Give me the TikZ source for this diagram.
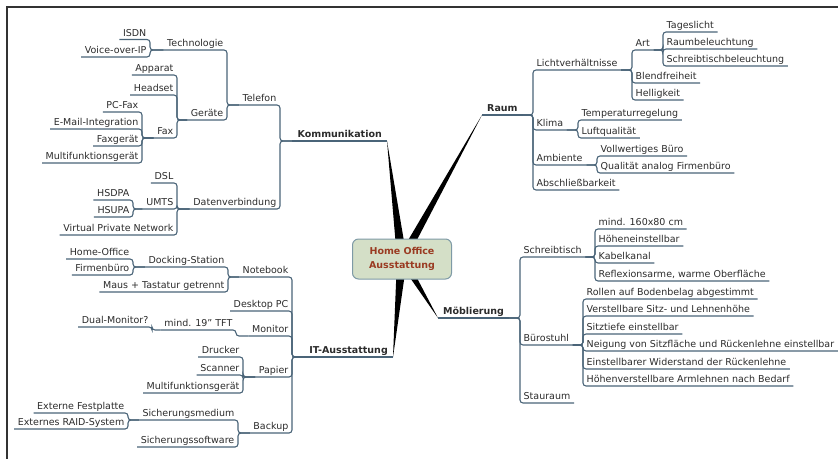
\documentclass[tikz,border=0pt]{standalone}
\usepackage{fontspec}
\setmainfont{DejaVu Sans}
\usetikzlibrary{backgrounds}
\definecolor{linie}{HTML}{4A6478}
\definecolor{schrift}{HTML}{2B2B2B}
\definecolor{kasten}{HTML}{D4DFC7}
\definecolor{kastenrand}{HTML}{7E9AA6}
\definecolor{kastentext}{HTML}{9A3B22}
\tikzset{
  topic/.style={font=\fontsize{9.5}{11}\selectfont, text=schrift, inner xsep=3.5pt, inner ysep=3pt, text depth=0pt, text height=7pt},
  links/.style={topic, anchor=south east},
  rechts/.style={topic, anchor=south west},
  haupt/.style={font=\fontsize{9.5}{11}\selectfont\bfseries, inner xsep=5pt},
  ast/.style={draw=linie, line width=1.1pt, rounded corners=3pt},
  keil/.style={fill=black},
  kern/.style={draw=kastenrand, fill=kasten, line width=1pt, rounded corners=6pt, minimum width=99pt, minimum height=40pt, align=center, text=kastentext, font=\fontsize{9.5}{14}\selectfont\bfseries}
}
\begin{document}
\begin{tikzpicture}[x=1pt,y=-1pt]
\useasboundingbox (0,0) rectangle (838,459);
\draw[line width=1.6pt, draw=black!80] (838,7) -- (7,7) -- (7,459);

\node[kern] (home) at (402,259) {Home Office\\Ausstattung};

% main topics
\node[links,haupt] (komm) at (387,141) {Kommunikation};
\node[links,haupt] (it) at (393,357) {IT-Ausstattung};
\node[rechts,haupt] (raum) at (482,115) {Raum};
\node[rechts,haupt] (moebl) at (438,318) {Möblierung};

% Kommunikation
\node[links] (telefon) at (280,105) {Telefon};
\node[links] (daten) at (280,209) {Datenverbindung};
\node[links] (techno) at (227,50) {Technologie};
\node[links] (geraete) at (227,120) {Geräte};
\node[links] (isdn) at (150,39.5) {ISDN};
\node[links] (voip) at (150,57) {Voice-over-IP};
\node[links] (apparat) at (177,75) {Apparat};
\node[links] (headset) at (177,95) {Headset};
\node[links] (fax) at (177,138) {Fax};
\node[links] (pcfax) at (142,112) {PC-Fax};
\node[links] (email) at (142,129) {E-Mail-Integration};
\node[links] (faxgeraet) at (142,146) {Faxgerät};
\node[links] (multia) at (142,163) {Multifunktionsgerät};
\node[links] (dsl) at (177,183) {DSL};
\node[links] (umts) at (177,209) {UMTS};
\node[links] (vpn) at (177,235) {Virtual Private Network};
\node[links] (hsdpa) at (133,200) {HSDPA};
\node[links] (hsupa) at (133,217) {HSUPA};

% IT-Ausstattung
\node[links] (notebook) at (292,277) {Notebook};
\node[links] (desktop) at (292,311) {Desktop PC};
\node[links] (monitor) at (292,336) {Monitor};
\node[links] (papier) at (292,377) {Papier};
\node[links] (backup) at (292,433) {Backup};
\node[links] (docking) at (228,267) {Docking-Station};
\node[links] (maus) at (228,292) {Maus + Tastatur getrennt};
\node[links] (homeoff) at (133,259) {Home-Office};
\node[links] (firmen) at (133,275) {Firmenbüro};
\node[links] (tft) at (236,330) {mind. 19" TFT};
\node[links] (dual) at (152,327) {Dual-Monitor?};
\node[links] (drucker) at (243,357) {Drucker};
\node[links] (scanner) at (243,375) {Scanner};
\node[links] (multib) at (243,393) {Multifunktionsgerät};
\node[links] (medium) at (238,420) {Sicherungsmedium};
\node[links] (software) at (238,447) {Sicherungssoftware};
\node[links] (festpl) at (128,413) {Externe Festplatte};
\node[links] (raid) at (128,429) {Externes RAID-System};

% Raum
\node[rechts] (licht) at (533,70) {Lichtverhältnisse};
\node[rechts] (klima) at (533,130) {Klima};
\node[rechts] (ambiente) at (533,165) {Ambiente};
\node[rechts] (abschl) at (533,190) {Abschließbarkeit};
\node[rechts] (art) at (632,50) {Art};
\node[rechts] (blend) at (632,83) {Blendfreiheit};
\node[rechts] (hell) at (632,100) {Helligkeit};
\node[rechts] (tages) at (663,32) {Tageslicht};
\node[rechts] (raumbel) at (663,49) {Raumbeleuchtung};
\node[rechts] (tischbel) at (663,66) {Schreibtischbeleuchtung};
\node[rechts] (temp) at (578,120) {Temperaturregelung};
\node[rechts] (luft) at (578,138) {Luftqualität};
\node[rechts] (vollw) at (597,156) {Vollwertiges Büro};
\node[rechts] (qual) at (597,173) {Qualität analog Firmenbüro};

% Möblierung
\node[rechts] (tisch) at (520,257) {Schreibtisch};
\node[rechts] (stuhl) at (520,345) {Bürostuhl};
\node[rechts] (stau) at (520,403) {Stauraum};
\node[rechts] (mass) at (595,229) {mind. 160x80 cm};
\node[rechts] (hoehe) at (595,246) {Höheneinstellbar};
\node[rechts] (kabel) at (595,263) {Kabelkanal};
\node[rechts] (reflex) at (595,281) {Reflexionsarme, warme Oberfläche};
\node[rechts] (rollen) at (583,299) {Rollen auf Bodenbelag abgestimmt};
\node[rechts] (verst) at (583,316) {Verstellbare Sitz- und Lehnenhöhe};
\node[rechts] (tiefe) at (583,334) {Sitztiefe einstellbar};
\node[rechts] (neigung) at (583,351) {Neigung von Sitzfläche und Rückenlehne einstellbar};
\node[rechts] (widerst) at (583,369) {Einstellbarer Widerstand der Rückenlehne};
\node[rechts] (armlehne) at (583,386) {Höhenverstellbare Armlehnen nach Bedarf};

% thick branches from the centre
\begin{scope}[on background layer]
  \fill[keil] ([xshift=-5pt]home.center) -- (komm.south east) -- ([xshift=5pt]home.center) -- cycle;
  \fill[keil] ([xshift=-5pt]home.center) -- (raum.south west) -- ([xshift=5pt]home.center) -- cycle;
  \fill[keil] ([xshift=-5pt]home.center) -- (it.south east) -- ([xshift=5pt]home.center) -- cycle;
  \fill[keil] ([xshift=-5pt]home.center) -- (moebl.south west) -- ([xshift=5pt]home.center) -- cycle;
\end{scope}

\foreach \n in {komm, it, raum, moebl}
  \draw[ast] (\n.south west) -- (\n.south east);

% branches on the left
\foreach \p/\c in {komm/telefon, komm/daten, telefon/techno, telefon/geraete,
    techno/isdn, techno/voip, geraete/apparat, geraete/headset, geraete/fax,
    fax/pcfax, fax/email, fax/faxgeraet, fax/multia, daten/dsl, daten/umts,
    daten/vpn, umts/hsdpa, umts/hsupa,
    it/notebook, it/desktop, it/monitor, it/papier, it/backup,
    notebook/docking, notebook/maus, docking/homeoff, docking/firmen,
    monitor/tft, tft/dual, papier/drucker, papier/scanner, papier/multib,
    backup/medium, backup/software, medium/festpl, medium/raid}
  \draw[ast] (\p.south west) -| (\c.south east) -- (\c.south west);

% branches on the right
\foreach \p/\c in {raum/licht, raum/klima, raum/ambiente, raum/abschl,
    licht/art, licht/blend, licht/hell, art/tages, art/raumbel, art/tischbel,
    klima/temp, klima/luft, ambiente/vollw, ambiente/qual,
    moebl/tisch, moebl/stuhl, moebl/stau, tisch/mass, tisch/hoehe, tisch/kabel,
    tisch/reflex, stuhl/rollen, stuhl/verst, stuhl/tiefe, stuhl/neigung,
    stuhl/widerst, stuhl/armlehne}
  \draw[ast] (\p.south east) -| (\c.south west) -- (\c.south east);
\end{tikzpicture}
\end{document}
